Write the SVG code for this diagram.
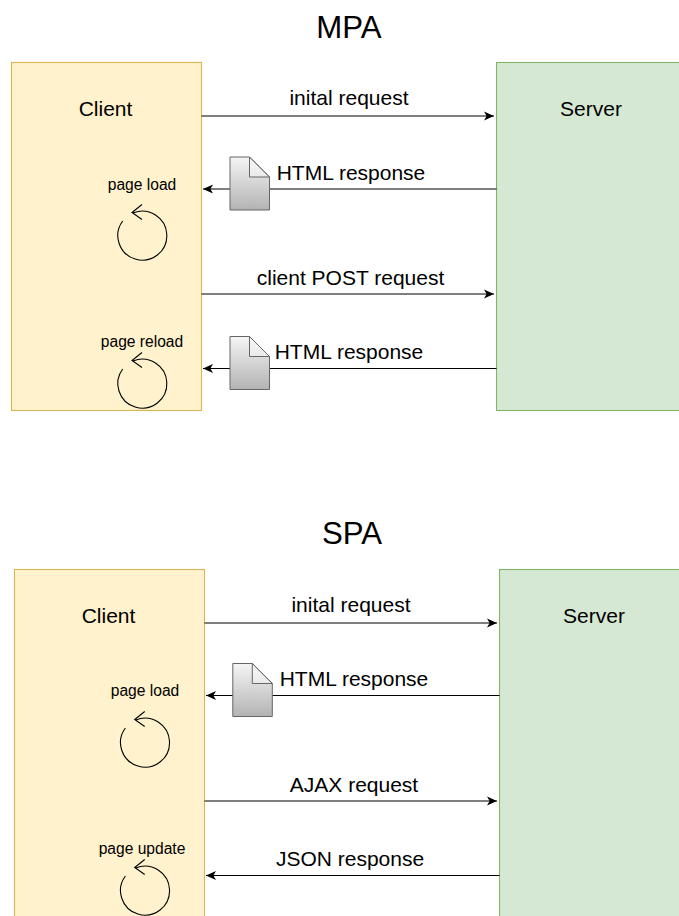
<svg xmlns="http://www.w3.org/2000/svg" width="679" height="916" viewBox="0 0 679 916">
<style>
text{font-family:"Liberation Sans",Arial,sans-serif;fill:#000;text-anchor:middle}
.t{font-size:31.2px}.m{font-size:21px}.s{font-size:15.6px}
.client{fill:#fff2cc;stroke:#d6b656;stroke-width:1.1}
.server{fill:#d5e8d4;stroke:#82b366;stroke-width:1.1}
.line{fill:none;stroke:#000;stroke-width:1.1}
.doc{fill:url(#g);stroke:#666;stroke-width:1}
.fold{fill:#fff;fill-opacity:.4;stroke:#666;stroke-width:1}
.loop{fill:none;stroke:#000;stroke-width:1.1}
</style>
<defs>
<linearGradient id="g" x1="0" y1="0" x2="0" y2="1"><stop offset="0" stop-color="#f5f5f5"/><stop offset="1" stop-color="#b3b3b3"/></linearGradient>
<marker id="a" markerUnits="userSpaceOnUse" markerWidth="12" markerHeight="10" refX="10" refY="5" orient="auto"><path d="M0 0.6L10 5L0 9.4L2.6 5Z" fill="#000"/></marker>
<g id="doc"><path class="doc" d="M0 0H19.5L39.5 20V53H0Z"/><path class="fold" d="M19.5 0V20H39.5Z"/></g>
<g id="loop"><path class="loop" d="M-19.3 -15A24.5 24.5 0 1 0 -9 -23M0 -31.5L-10 -23.5L0 -16.5"/></g>
</defs>
<g id="mpa-title"><text class="t" x="349" y="38">MPA</text></g>
<g id="spa-title"><text class="t" x="352" y="544">SPA</text></g>
<g id="mpa-client"><rect class="client" x="11.500" y="62.500" width="190" height="348"/><text class="m" x="105.500" y="116">Client</text></g>
<g id="mpa-server"><rect class="server" x="496.500" y="62.500" width="200" height="348"/><text class="m" x="591" y="116">Server</text></g>
<g id="spa-client"><rect class="client" x="14.500" y="569.500" width="190" height="360"/><text class="m" x="108.500" y="623">Client</text></g>
<g id="spa-server"><rect class="server" x="499.500" y="569.500" width="200" height="360"/><text class="m" x="594" y="623">Server</text></g>
<g id="connectors">
<path class="line" marker-end="url(#a)" d="M201.500 116H494"/>
<path class="line" marker-end="url(#a)" d="M496.500 189H203"/>
<path class="line" marker-end="url(#a)" d="M201.500 294H494"/>
<path class="line" marker-end="url(#a)" d="M496.500 368.500H203"/>
<path class="line" marker-end="url(#a)" d="M204.500 623H497"/>
<path class="line" marker-end="url(#a)" d="M499.500 695.500H206"/>
<path class="line" marker-end="url(#a)" d="M204.500 801H497"/>
<path class="line" marker-end="url(#a)" d="M499.500 875.500H206"/>
</g>
<g id="mpa-doc1"><use href="#doc" x="230" y="157"/></g>
<g id="mpa-doc2"><use href="#doc" x="230" y="336.500"/></g>
<g id="spa-doc1"><use href="#doc" x="232.800" y="663.500"/></g>
<g id="mpa-loop1"><use href="#loop" x="142" y="236"/><text class="s" x="142" y="190">page load</text></g>
<g id="mpa-loop2"><use href="#loop" x="142" y="384"/><text class="s" x="142" y="347">page reload</text></g>
<g id="spa-loop1"><use href="#loop" x="144.700" y="743"/><text class="s" x="145" y="696">page load</text></g>
<g id="spa-loop2"><use href="#loop" x="144.700" y="891"/><text class="s" x="142" y="854">page update</text></g>
<g id="labels">
<text class="m" x="349" y="105">inital request</text>
<text class="m" x="351" y="180">HTML response</text>
<text class="m" x="350.500" y="285">client POST request</text>
<text class="m" x="349" y="359">HTML response</text>
<text class="m" x="351" y="612">inital request</text>
<text class="m" x="354" y="686">HTML response</text>
<text class="m" x="354" y="792">AJAX request</text>
<text class="m" x="350" y="866">JSON response</text>
</g>
</svg>
